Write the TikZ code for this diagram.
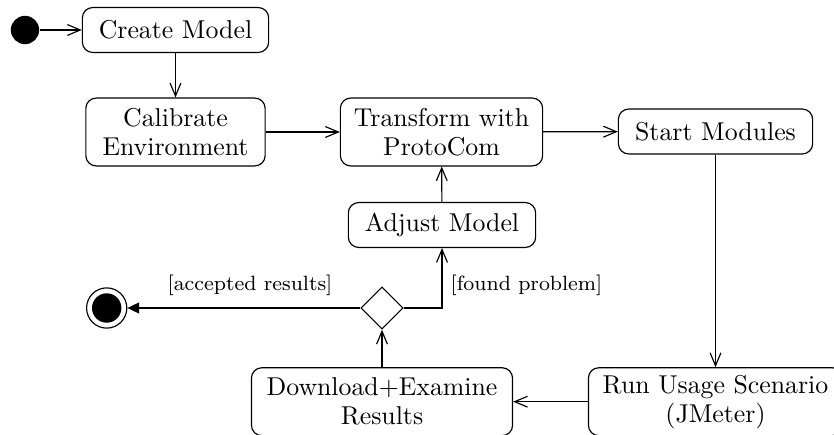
\documentclass[tikz,border=0pt]{standalone}
\usetikzlibrary{arrows.meta,shapes.geometric}
\begin{document}
\begin{tikzpicture}[x=0.3876pt,y=-0.3876pt,line width=0.45pt,
  act/.style={draw,rounded corners=4pt,align=center,inner sep=0pt,
    font=\fontsize{10}{11.2}\selectfont,minimum height=17.4pt},
  act2/.style={act,minimum height=26.3pt},
  flow/.style={-{Straight Barb[length=5pt,width=4.2pt]}},
  lbl/.style={font=\footnotesize}]
\useasboundingbox (0,0) rectangle (834,434);
\node[circle,fill=black,minimum size=11pt,inner sep=0pt] (start) at (25,30) {};
\node[act,minimum width=72.2pt] (create) at (175.5,30) {Create Model};
\node[act2,minimum width=69.5pt] (calib) at (175.5,132) {Calibrate\\Environment};
\node[act2,minimum width=78.4pt] (trans) at (441.5,132) {Transform with\\ProtoCom};
\node[act,minimum width=75.3pt] (startm) at (715.5,131.5) {Start Modules};
\node[act,minimum width=72.6pt] (adjust) at (442,225) {Adjust Model};
\node[diamond,draw,minimum width=16.4pt,minimum height=16.4pt,inner sep=0pt] (dec) at (382,308) {};
\node[act2,minimum width=101.2pt] (down) at (382,401.7) {Download+Examine\\Results};
\node[act2,minimum width=98.5pt] (run) at (715.5,401.7) {Run Usage Scenario\\(JMeter)};
\node[circle,draw,minimum size=15.6pt,inner sep=0pt] (end) at (106.7,308) {};
\node[circle,fill=black,minimum size=11.4pt,inner sep=0pt] at (end.center) {};
\draw[flow] (start) -- (create);
\draw[flow] (create) -- (calib);
\draw[flow] (calib) -- (trans);
\draw[flow] (trans) -- (startm);
\draw[flow] (startm) -- (run);
\draw[flow] (run) -- (down);
\draw[flow] (down) -- (dec);
\draw[-{Triangle[length=4.5pt,width=4.2pt]}] (dec) -- (end);
\draw[flow] (dec.east) -| (adjust.south);
\draw[flow] (adjust) -- (trans);
\node[lbl] (lacc) at (250,285.7) {[accepted results]};
\node[lbl] (lfound) at (526.5,285) {[found problem]};
\end{tikzpicture}
\end{document}
